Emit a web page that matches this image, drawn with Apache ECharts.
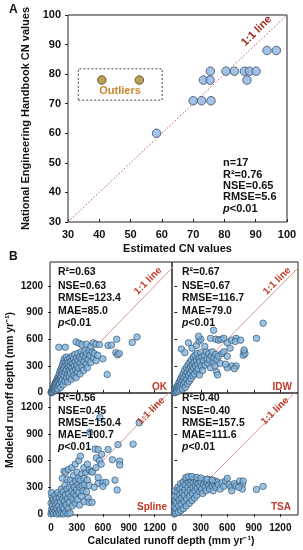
<!DOCTYPE html>
<html><head><meta charset="utf-8">
<script src="https://cdn.jsdelivr.net/npm/echarts@6/dist/echarts.min.js"></script>
<style>html,body{margin:0;padding:0;background:#fff}#c{width:303px;height:550px}</style>
</head><body><div id="c"></div>
<script>
// ---------- Panel A data ----------
const cnBlue = [[58.3,60],[70,71],[72.7,71],[75.7,71],[73.3,78],[75.4,78],[87.2,78],[75.5,81],[80.5,81],[83.2,81],[86.4,81],[88,81],[90.1,81],[93.6,88],[96.6,88]];
const cnOutliers = [[40.8,78],[52.8,78]];
const oneToOneA = [[30,30],[100,100]];
const outlierBox = [[33.3,71.2],[60.1,81.8]];
const statsA = ['n=17','R\u00b2=0.76','NSE=0.65','RMSE=5.6','{i|p}<0.01'];

// ---------- Panel B data ----------
const runoffTicks = [0,300,600,900,1200];
const oneToOneB = [[-40,-40],[1500,1500]];
const okData = [[0,0],[5,15],[10,5],[12,30],[18,20],[20,45],[25,10],[28,60],[30,35],[35,80],[38,25],[40,50],[45,100],[48,70],[50,30],[55,120],[58,85],[60,45],[65,140],[68,100],[70,60],[75,160],[78,120],[80,40],[85,180],[88,135],[90,80],[95,210],[98,150],[100,100],[105,240],[108,170],[110,60],[115,260],[118,190],[120,120],[125,290],[128,220],[130,150],[135,320],[138,250],[140,90],[145,350],[148,270],[150,190],[155,380],[160,300],[162,130],[165,230],[170,340],[175,400],[178,260],[180,170],[185,310],[190,370],[192,210],[195,120],[200,290],[205,340],[210,250],[212,180],[218,390],[220,300],[225,220],[230,350],[235,150],[240,280],[245,410],[250,330],[255,240],[260,380],[265,190],[270,300],[275,430],[280,350],[285,260],[290,170],[295,390],[300,310],[305,230],[310,440],[315,360],[320,280],[330,400],[335,210],[340,330],[350,460],[355,380],[360,290],[370,420],[375,250],[380,350],[390,470],[400,400],[405,320],[415,440],[420,280],[430,370],[440,480],[450,420],[460,340],[475,460],[490,390],[500,440],[520,360],[540,420],[90,510],[165,510],[290,570],[325,555],[360,540],[410,545],[460,520],[490,560],[520,545],[560,540],[600,380],[660,530],[700,535],[760,600],[750,450],[770,425],[790,440],[650,205],[940,565],[995,625]];
const idwData = [[0,0],[5,10],[10,30],[15,5],[20,50],[25,20],[30,70],[35,40],[40,15],[45,90],[50,55],[55,120],[60,30],[65,80],[70,150],[75,60],[80,110],[85,180],[90,40],[95,140],[100,210],[105,90],[110,170],[115,250],[120,120],[125,60],[130,200],[135,280],[140,150],[145,230],[150,100],[155,310],[160,190],[165,260],[170,130],[175,340],[180,220],[185,290],[190,160],[195,370],[200,250],[205,310],[210,190],[215,400],[220,280],[225,340],[230,210],[235,420],[240,300],[250,360],[255,240],[260,440],[265,320],[270,270],[280,390],[285,200],[290,350],[300,450],[305,300],[310,400],[320,250],[330,360],[340,420],[350,310],[360,460],[370,380],[380,330],[390,440],[400,370],[410,280],[420,410],[430,460],[440,340],[450,390],[460,300],[470,430],[480,370],[500,410],[520,330],[80,490],[160,560],[120,450],[200,500],[250,530],[280,580],[300,600],[275,635],[345,520],[410,610],[445,700],[470,600],[500,590],[530,600],[560,610],[600,560],[650,590],[700,610],[690,575],[750,590],[540,440],[560,460],[600,410],[630,500],[650,300],[700,300],[680,270],[600,280],[480,230],[490,200],[580,320],[780,420],[790,460],[800,440],[790,480],[930,610],[1005,780]];
const splineData = [[0,0],[5,50],[0,120],[10,200],[5,240],[15,20],[20,90],[25,160],[30,10],[35,60],[40,130],[45,210],[50,30],[55,100],[60,170],[65,0],[70,60],[75,130],[80,240],[85,20],[90,90],[95,180],[100,0],[105,50],[110,140],[115,220],[120,280],[125,10],[130,80],[135,170],[140,250],[145,0],[150,60],[155,140],[160,320],[165,210],[170,20],[175,100],[180,390],[185,280],[190,170],[195,0],[200,60],[205,230],[210,130],[215,300],[220,10],[225,380],[230,190],[240,260],[245,90],[250,340],[255,160],[260,430],[265,230],[270,300],[280,120],[285,370],[290,200],[295,270],[300,470],[305,160],[310,330],[315,400],[320,240],[330,100],[335,300],[340,380],[350,200],[355,450],[360,320],[370,260],[380,400],[385,140],[390,330],[400,470],[410,250],[420,380],[430,180],[440,320],[150,480],[170,470],[130,400],[200,500],[240,520],[280,560],[320,600],[340,650],[380,520],[420,560],[450,920],[565,1085],[1020,1025],[950,785],[775,780],[660,725],[510,730],[545,725],[585,670],[525,630],[560,600],[710,610],[795,595],[795,550],[440,495],[465,480],[545,345],[600,350],[635,355],[765,270],[740,380],[546,410],[440,130],[475,130],[600,310],[500,300],[480,470],[520,520],[580,560]];
const tsaData = [[0,0],[5,30],[0,80],[10,150],[5,200],[10,260],[15,10],[20,60],[25,120],[30,190],[35,250],[40,300],[45,20],[50,90],[55,160],[60,220],[65,280],[70,340],[75,40],[80,110],[85,180],[90,240],[95,300],[100,360],[105,60],[110,140],[115,210],[120,270],[125,330],[130,390],[135,90],[140,170],[150,240],[155,300],[160,360],[165,410],[170,120],[175,200],[180,270],[185,330],[190,380],[200,150],[205,230],[210,300],[215,350],[220,400],[230,180],[235,260],[240,320],[250,370],[255,210],[260,290],[270,340],[280,390],[285,250],[290,310],[300,360],[310,280],[320,230],[330,330],[340,380],[350,300],[360,260],[370,350],[380,390],[390,320],[400,280],[410,360],[420,380],[430,310],[440,260],[450,340],[460,370],[470,300],[485,360],[500,330],[520,280],[540,350],[560,310],[580,370],[600,400],[620,330],[640,300],[650,260],[680,340],[700,315],[740,370],[770,330],[780,370],[770,280],[730,300],[930,275],[1005,310],[130,410],[160,420],[200,420],[255,410],[300,405],[370,390],[430,380]];
const methods = ['OK','IDW','Spline','TSA'];
const statsB = [
  ['R\u00b2=0.63','NSE=0.63','RMSE=123.4','MAE=85.0','{i|p}<0.01'],
  ['R\u00b2=0.67','NSE=0.67','RMSE=116.7','MAE=79.0','{i|p}<0.01'],
  ['R\u00b2=0.56','NSE=0.45','RMSE=150.4','MAE=100.7','{i|p}<0.01'],
  ['R\u00b2=0.40','NSE=0.40','RMSE=157.5','MAE=111.6','{i|p}<0.01']
];
const bData = [okData, idwData, splineData, tsaData];

// ---------- build ----------
const F = 'Liberation Sans, Arial, Helvetica, sans-serif';
const chart = echarts.init(document.getElementById('c'));

function txt(x, y, text, o) {
  o = o || {};
  return {type:'text', x:x, y:y, rotation:o.rot||0, z:100, silent:true,
    style:{text:text, fill:o.color||'#111', fontSize:o.size||11, fontWeight:o.weight||'bold', fontFamily:F,
      align:o.align||'left', verticalAlign:'middle',
      rich:{i:{fontStyle:'italic', fontWeight:'bold', fontSize:o.size||11, fontFamily:F, fill:o.color||'#111'}}}};
}

const grids = [
  {left:68, top:15, width:219, height:207},
  {left:50, top:262, width:122, height:131},
  {left:172, top:262, width:126, height:131},
  {left:50, top:393, width:122, height:122},
  {left:172, top:393, width:126, height:122}
].map(g => Object.assign({show:true, borderColor:'#222', borderWidth:1, backgroundColor:'transparent'}, g));

const lblStyle = {color:'#111', fontWeight:'bold', fontFamily:F};
const plain = v => String(v);
const xAxes = [{
  gridIndex:0, type:'value', min:30, max:100, interval:10,
  axisLine:{show:false}, splitLine:{show:false},
  axisTick:{show:true, inside:true, length:3, lineStyle:{color:'#222'}},
  axisLabel:Object.assign({fontSize:11, margin:7, formatter:plain}, lblStyle),
  name:'Estimated CN values', nameLocation:'middle', nameGap:21,
  nameTextStyle:Object.assign({fontSize:11}, lblStyle)
}];
const yAxes = [{
  gridIndex:0, type:'value', min:30, max:100, interval:10,
  axisLine:{show:false}, splitLine:{show:false},
  axisTick:{show:true, inside:false, length:3, lineStyle:{color:'#222'}},
  axisLabel:Object.assign({fontSize:11, margin:7, formatter:plain}, lblStyle),
  name:'National Engineering Handbook CN values', nameLocation:'middle', nameGap:34,
  nameTextStyle:Object.assign({fontSize:11}, lblStyle)
}];
for (let i = 0; i < 4; i++) {
  const gi = i + 1, left = (i % 2 === 0), bottom = (i >= 2);
  xAxes.push({gridIndex:gi, type:'value', min:left ? -12 : -26, max:1400,
    axisLine:{show:false}, splitLine:{show:false},
    axisTick:{show:true, inside:!bottom, length:3, customValues:runoffTicks, lineStyle:{color:'#222'}},
    axisLabel:Object.assign({show:bottom, fontSize:10, margin:8, customValues:runoffTicks, formatter:plain}, lblStyle)});
  yAxes.push({gridIndex:gi, type:'value', min:bottom ? -12 : -3, max:bottom ? 1360 : 1467,
    axisLine:{show:false}, splitLine:{show:false},
    axisTick:{show:true, inside:!left, length:3, customValues:runoffTicks, lineStyle:{color:'#222'}},
    axisLabel:Object.assign({show:left, fontSize:10, margin:7, customValues:runoffTicks, formatter:plain}, lblStyle)});
}

const series = [
  {type:'line', xAxisIndex:0, yAxisIndex:0, data:oneToOneA, symbol:'none', silent:true, z:1,
    lineStyle:{color:'#c0504d', width:1, type:[1.5,2]}},
  {type:'scatter', xAxisIndex:0, yAxisIndex:0, data:cnBlue, symbolSize:8.5, z:3,
    itemStyle:{color:'#8db4e2', borderColor:'#3b4b66', borderWidth:1}},
  {type:'scatter', xAxisIndex:0, yAxisIndex:0, data:cnOutliers, symbolSize:8.5, z:3,
    itemStyle:{color:'#a8892c', borderColor:'#4a3c12', borderWidth:1},
    markArea:{silent:true, itemStyle:{color:'rgba(0,0,0,0)', borderColor:'#444', borderWidth:1, borderType:[2,2]},
      data:[[{coord:outlierBox[0]},{coord:outlierBox[1]}]]}}
];
for (let i = 0; i < 4; i++) {
  series.push({type:'line', xAxisIndex:i+1, yAxisIndex:i+1, data:oneToOneB, symbol:'none', silent:true, z:1, clip:true,
    lineStyle:{color:'#d59c8c', width:1}});
  series.push({type:'scatter', xAxisIndex:i+1, yAxisIndex:i+1, data:bData[i], symbolSize:6.5, z:3, clip:false,
    itemStyle:{color:'#82b4dc', borderColor:'#2d4a66', borderWidth:0.8}});
}

const graphics = [];
graphics.push(txt(9, 10, 'A', {size:12}));
graphics.push(txt(9, 257, 'B', {size:12}));
graphics.push(txt(120, 90.5, 'Outliers', {color:'#c8862a', align:'center'}));
graphics.push(txt(256.5, 31, '1:1 line', {color:'#9e2a20', align:'center', rot:Math.PI/4}));
const ayA = [163.3, 174.6, 185.9, 197.2, 208.5];
statsA.forEach((s, k) => graphics.push(txt(223, ayA[k], s)));
const sx = [58, 182, 58, 182];
const sy = [[272,286,298.5,311,323.3],[272,286,298.5,311,323.3],[398.3,410.7,422.7,435,447.3],[398.3,410.7,422.7,435,447.3]];
statsB.forEach((arr, i) => arr.forEach((s, k) => graphics.push(txt(sx[i], sy[i][k], s, {size:10.5}))));
const mx = [167, 292, 167, 291], my = [387.7, 387.7, 507.7, 507.7];
methods.forEach((m, i) => graphics.push(txt(mx[i], my[i], m, {color:'#c0392b', size:10, align:'right'})));
const lx = [148, 277, 151, 275], ly = [281, 281, 411, 411];
lx.forEach((x, i) => graphics.push(txt(x, ly[i], '1:1 line', {color:'#c0392b', size:10, align:'center', rot:Math.PI/4})));
graphics.push(txt(10, 390, 'Modeled runoff depth (mm yr\u207b\u00b9)', {size:10.5, align:'center', rot:Math.PI/2}));
graphics.push(txt(171, 541, 'Calculated runoff depth (mm yr\u207b\u00b9)', {size:10.5, align:'center'}));

chart.setOption({
  animation:false,
  backgroundColor:'#fff',
  textStyle:{fontFamily:F},
  grid:grids, xAxis:xAxes, yAxis:yAxes, series:series, graphic:graphics
});
</script>
</body></html>
